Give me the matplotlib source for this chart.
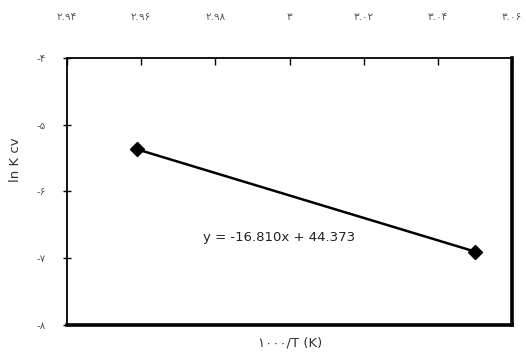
import matplotlib
matplotlib.use("Agg")
import matplotlib.pyplot as plt

# 1000/T values and ln K
inv_t = [2.959, 3.050]
ln_k = [-5.37, -6.90]

x_ticks = [2.94, 2.96, 2.98, 3.00, 3.02, 3.04, 3.06]
x_labels = ["۲.۹۴", "۲.۹۶", "۲.۹۸", "۳", "۳.۰۲", "۳.۰۴", "۳.۰۶"]
y_ticks = [-4, -5, -6, -7, -8]
y_labels = ["-۴", "-۵", "-۶", "-۷", "-۸"]

equation = "y = -16.810x + 44.373"

plt.rcParams["font.family"] = ["DejaVu Sans"]

fig = plt.figure(figsize=(5.26, 3.62), dpi=100)
ax = fig.add_axes([0.1274, 0.1022, 0.846, 0.7376])

ax.plot(inv_t, ln_k, color="black", linewidth=1.8, marker="D",
        markersize=7, markerfacecolor="black", markeredgecolor="black")

ax.set_xlim(2.94, 3.06)
ax.set_ylim(-8, -4)

ax.xaxis.tick_top()
ax.set_xticks(x_ticks)
ax.set_xticklabels(x_labels, fontsize=7.5, color="#555555")
ax.set_yticks(y_ticks)
ax.set_yticklabels(y_labels, fontsize=7.5, color="#555555")
ax.tick_params(axis="x", direction="in", length=5, width=1, pad=26, top=True, bottom=False)
ax.tick_params(axis="y", direction="inout", length=6, width=1, pad=12)

for side in ["top", "left"]:
    ax.spines[side].set_linewidth(1.3)
for side in ["bottom", "right"]:
    ax.spines[side].set_linewidth(2.6)

ax.text(0.306, 0.315, equation, transform=ax.transAxes, fontsize=9.5, color="#222222")

fig.text(0.551, 0.052, "۱۰۰۰/T (K)", ha="center", va="center", fontsize=9.5, color="#333333")
fig.text(0.03, 0.56, "ln K cv", ha="center", va="center", rotation=90, fontsize=9.5, color="#333333")

fig.savefig("out.png", dpi=100)
